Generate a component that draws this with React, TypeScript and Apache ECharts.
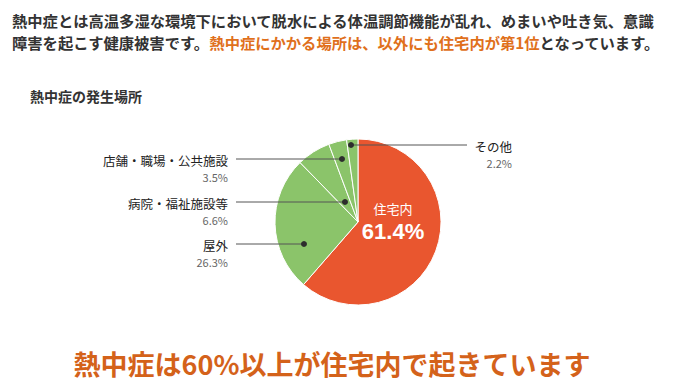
import React, { useEffect, useRef } from "react";
import * as echarts from "echarts";

const categories = ["住宅内", "屋外", "病院・福祉施設等", "店舗・職場・公共施設", "その他"];
const values = [61.4, 26.3, 6.6, 3.5, 2.2];
const sliceColors = ["#e9562f", "#8bc46a", "#8bc46a", "#8bc46a", "#8bc46a"];

const headerLine1 = "熱中症とは高温多湿な環境下において脱水による体温調節機能が乱れ、めまいや吐き気、意識";
const headerLine2a = "障害を起こす健康被害です。";
const headerLine2b = "熱中症にかかる場所は、以外にも住宅内が第1位";
const headerLine2c = "となっています。";
const chartTitle = "熱中症の発生場所";
const footerText = "熱中症は60%以上が住宅内で起きています";

const FONT = '"Noto Sans CJK JP", "Noto Sans", sans-serif';
const CX = 358;
const CY = 222;
const R = 83;

// layout for outside labels (index into categories): label line y, dot x, text right edge, line start x
const outsideLayout: Record<number, { y: number; dotX: number; textRight: number; lineX: number }> = {
  4: { y: 145, dotX: 351, textRight: 512, lineX: 467 },
  3: { y: 159, dotX: 342, textRight: 228, lineX: 236 },
  2: { y: 202, dotX: 345, textRight: 228, lineX: 236 },
  1: { y: 244, dotX: 304, textRight: 228, lineX: 236 },
};

export default function App() {
  const ref = useRef<HTMLDivElement>(null);
  useEffect(() => {
    document.body.style.margin = "0";
    if (!ref.current) return;
    const chart = echarts.init(ref.current, null, { renderer: "svg" });

    const graphics: any[] = [];
    graphics.push({
      type: "text",
      x: 12,
      y: 8.5,
      style: {
        text: `{a|${headerLine1}}\n{a|${headerLine2a}}{b|${headerLine2b}}{a|${headerLine2c}}`,
        verticalAlign: "top",
        rich: {
          a: { fontSize: 15.3, fontWeight: "bold", fontFamily: FONT, fill: "#333", lineHeight: 22.5 },
          b: { fontSize: 15.3, fontWeight: "bold", fontFamily: FONT, fill: "#e0701c", lineHeight: 22.5 },
        },
      },
    });
    graphics.push({
      type: "text",
      left: 30,
      top: 89,
      style: { text: chartTitle, font: `bold 14px ${FONT}`, fill: "#333" },
    });
    graphics.push({
      type: "text",
      x: 332,
      y: 363,
      style: { text: footerText, font: `bold 27px ${FONT}`, fill: "#d4621a", align: "center", verticalAlign: "middle" },
    });

    Object.keys(outsideLayout).forEach((k) => {
      const i = Number(k);
      const L = outsideLayout[i];
      graphics.push({
        type: "line",
        shape: { x1: L.lineX, y1: L.y, x2: L.dotX, y2: L.y },
        style: { stroke: "#555", lineWidth: 1 },
        z: 10,
      });
      graphics.push({
        type: "circle",
        shape: { cx: L.dotX, cy: L.y, r: 3 },
        style: { fill: "#2d2d2d" },
        z: 11,
      });
      graphics.push({
        type: "text",
        x: L.textRight,
        y: L.y + 1,
        style: { text: categories[i], font: `12.5px ${FONT}`, fill: "#222", align: "right", verticalAlign: "middle" },
        z: 10,
      });
      graphics.push({
        type: "text",
        x: L.textRight,
        y: L.y + 18,
        style: { text: `${values[i]}%`, font: `11px ${FONT}`, fill: "#666", align: "right", verticalAlign: "middle" },
        z: 10,
      });
    });

    chart.setOption({
      animation: false,
      backgroundColor: "#ffffff",
      graphic: graphics,
      series: [
        {
          type: "pie",
          center: [CX, CY],
          radius: [0, R],
          startAngle: 90,
          clockwise: true,
          silent: true,
          itemStyle: { borderColor: "#ffffff", borderWidth: 1 },
          label: { show: false },
          labelLine: { show: false },
          labelLayout: (p: any) => (p.dataIndex === 0 ? { x: 393, y: 220, align: "center", verticalAlign: "middle" } : {}),
          data: categories.map((name, i) => ({
            name,
            value: values[i],
            itemStyle: { color: sliceColors[i] },
            label:
              i === 0
                ? {
                    show: true,
                    position: "inside",
                    formatter: "{n|{b}}\n{v|{c}%}",
                    rich: {
                      n: { fontSize: 13, color: "#fff", fontFamily: FONT, lineHeight: 22 },
                      v: { fontSize: 22, fontWeight: "bold", color: "#fff", fontFamily: "Liberation Sans, Arial, sans-serif", lineHeight: 24 },
                    },
                  }
                : { show: false },
          })),
        },
      ],
    });
    return () => chart.dispose();
  }, []);
  return <div ref={ref} style={{ width: 675, height: 389 }} />;
}
